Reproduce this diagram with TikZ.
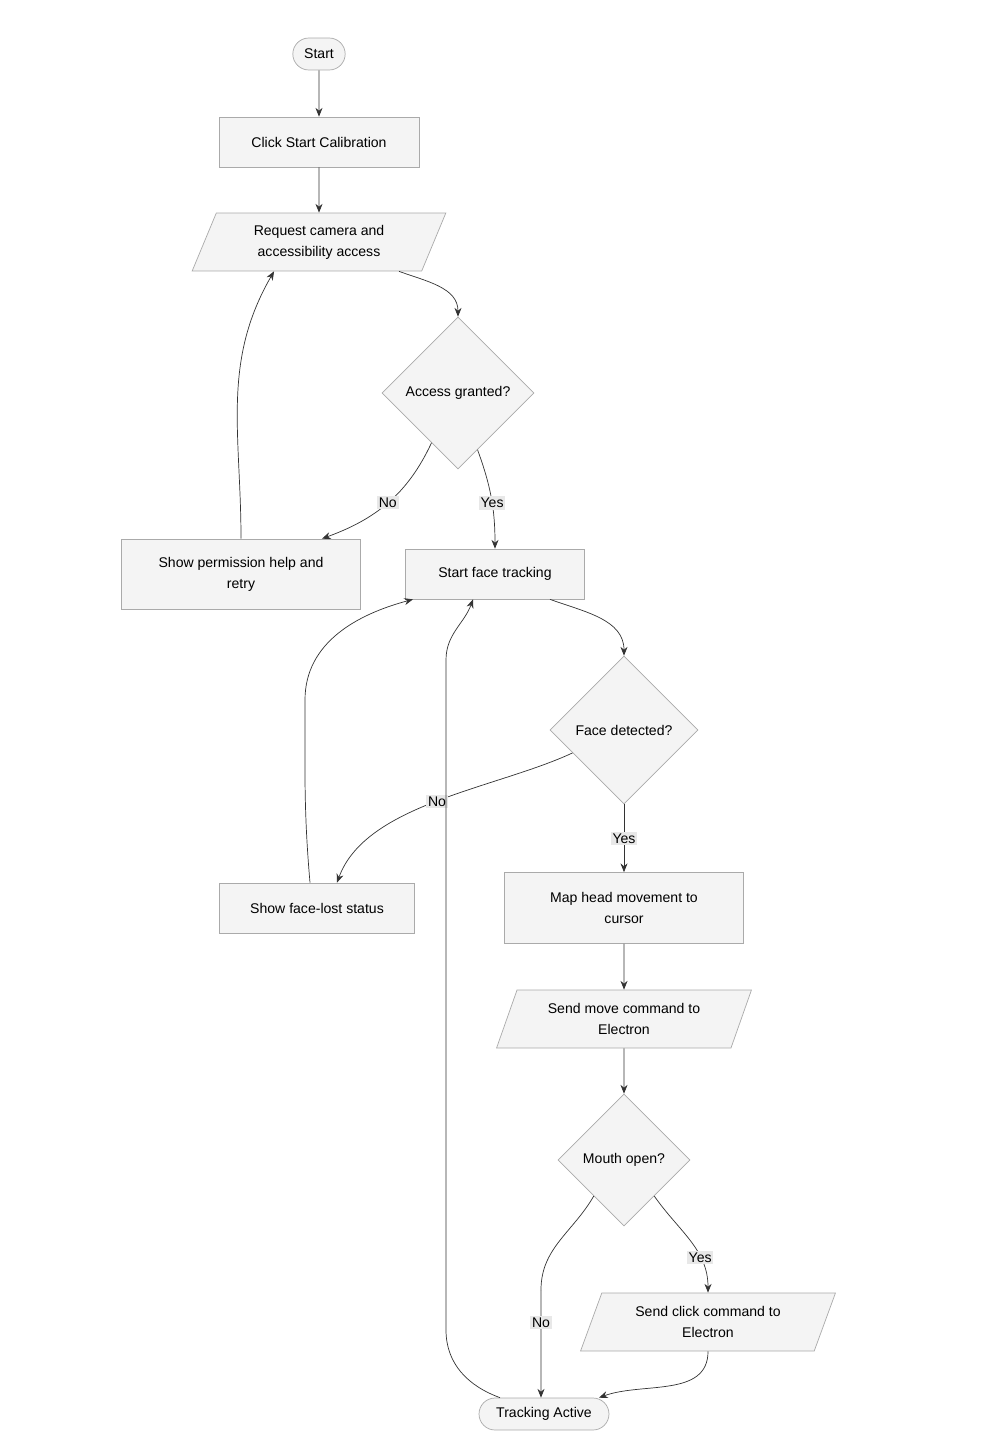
\documentclass[tikz,border=0pt]{standalone}
\usepackage{fontspec}
\setmainfont{Liberation Sans}
\usetikzlibrary{shapes.geometric,shapes.misc,arrows.meta}
\definecolor{boxfill}{HTML}{F4F4F4}
\definecolor{boxline}{HTML}{AAAAAA}
\definecolor{edgeline}{HTML}{333333}
\definecolor{labelbg}{HTML}{E8E8E8}
\begin{document}
\begin{tikzpicture}[x=0.02cm,y=-0.02cm,font=\fontsize{8}{12}\selectfont]
  \tikzstyle{box}=[rectangle,draw=boxline,fill=boxfill,align=center,inner sep=0pt]
  \tikzstyle{pill}=[rounded rectangle,draw=boxline,fill=boxfill,minimum height=0.64cm,inner xsep=6pt]
  \tikzstyle{io}=[trapezium,trapezium left angle=70,trapezium right angle=110,draw=boxline,fill=boxfill,align=center,minimum height=1.16cm,trapezium stretches=true]
  \tikzstyle{decision}=[diamond,aspect=1,draw=boxline,fill=boxfill,inner sep=0pt]
  \tikzstyle{edge}=[draw=edgeline,-{Stealth[length=5pt,width=4pt]}]
  \tikzstyle{lbl}=[fill=labelbg,inner sep=1pt]
  \useasboundingbox (0,0) rectangle (1000,1454);
  % nodes
  \node [pill] (start) at (319,54) {Start};
  \node [box,minimum width=4cm,minimum height=1cm] (click) at (319,142) {Click Start Calibration};
  \node [io,minimum width=5.08cm] (request) at (319,242) {Request camera and\\accessibility access};
  \node [decision,minimum size=3.04cm] (access) at (458,393) {Access granted?};
  \node [box,minimum width=4.78cm,minimum height=1.4cm] (help) at (241,574) {Show permission help and\\retry};
  \node [box,minimum width=3.58cm,minimum height=1cm] (track) at (495,574) {Start face tracking};
  \node [decision,minimum size=2.96cm] (face) at (624,730) {Face detected?};
  \node [box,minimum width=3.9cm,minimum height=1cm] (lost) at (317,908) {Show face-lost status};
  \node [box,minimum width=4.78cm,minimum height=1.42cm] (map) at (624,908) {Map head movement to\\cursor};
  \node [io,minimum width=5.1cm] (move) at (624,1019) {Send move command to\\Electron};
  \node [decision,minimum size=2.64cm] (mouth) at (624,1160) {Mouth open?};
  \node [io,minimum width=5.1cm] (clickcmd) at (708,1322) {Send click command to\\Electron};
  \node [pill,inner xsep=9pt] (active) at (544,1414) {Tracking Active};
  \coordinate (mouthbend) at (541,1290);
  % connectors
  \path[edge] (start) -- (click);
  \path[edge] (click) -- (request);
  \path[edge] ([xshift=1.6cm]request.south) to[out=-20,in=90] (access.north);
  \path[edge] (access.242) to[out=-115,in=20] node[lbl,pos=0.5] {No} ([xshift=1.62cm]help.north);
  \path[edge] (access.289) to[out=-70,in=90] node[lbl,pos=0.55] {Yes} (track.north);
  \path[edge] (help.north) to[out=90,in=-120] ([xshift=-0.9cm]request.south);
  \path[edge] ([xshift=1.1cm]track.south) to[out=-20,in=90] (face.north);
  \path[edge] (face.204) to[out=-155,in=70,looseness=0.8] node[lbl,pos=0.5] {No} ([xshift=0.4cm]lost.north);
  \path[edge] (face.south) -- node[lbl] {Yes} (map.north);
  \path[edge] ([xshift=-0.14cm]lost.north) to[out=95,in=-90] (305,700) to[out=90,in=-165] ([xshift=-1.64cm]track.south);
  \path[edge] (map) -- (move);
  \path[edge] (move) -- (mouth);
  \path[edge] (mouth.310) to[out=-55,in=90] node[lbl,pos=0.68] {Yes} (clickcmd.north);
  \draw[draw=edgeline] (mouth.230) to[out=-120,in=90] (mouthbend);
  \path[edge] (mouthbend) -- node[lbl,pos=0.3] {No} ([xshift=-0.06cm]active.north);
  \path[edge] (clickcmd.south) to[out=-90,in=20] ([xshift=1.1cm]active.north);
  \path[edge] ([xshift=-0.88cm]active.north) to[out=160,in=-90] (446,1330) -- (446,660) to[out=90,in=-110] ([xshift=-0.44cm]track.south);
\end{tikzpicture}
\end{document}
